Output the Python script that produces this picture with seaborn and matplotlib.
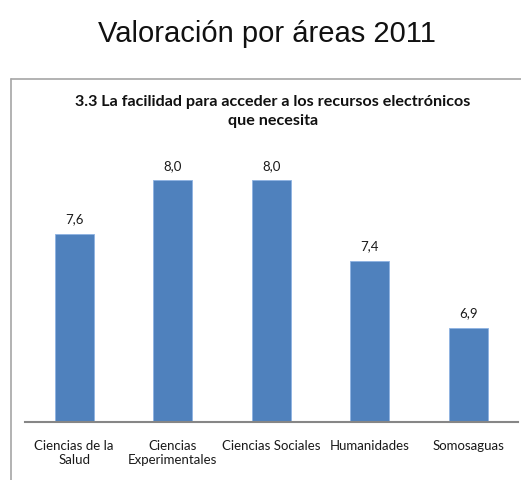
import numpy as np
import pandas as pd
import seaborn as sns
import matplotlib.pyplot as plt
from matplotlib.lines import Line2D

areas = ["Ciencias de la\nSalud", "Ciencias\nExperimentales", "Ciencias Sociales",
         "Humanidades", "Somosaguas"]
valoracion = [7.6, 8.0, 8.0, 7.4, 6.9]

main_title = "Valoración por áreas 2011"
chart_title = "3.3 La facilidad para acceder a los recursos electrónicos\nque necesita"

bar_color = "#4F81BD"

sns.set_style("white")
plt.rcParams["font.family"] = ["Lato", "DejaVu Sans"]

data = pd.DataFrame({"Area": areas, "Valoracion": valoracion})

W, H = 521, 480
fig = plt.figure(figsize=(W / 100, H / 100), dpi=100)

# axes placed in pixel terms so the bars line up with the reference
left, right, top, base = 25, 517.5, 150, 421.7
ax = fig.add_axes([left / W, (H - base) / H, (right - left) / W, (base - top) / H])

sns.barplot(data=data, x="Area", y="Valoracion", color=bar_color,
            width=0.4, saturation=1, ax=ax, edgecolor="#8DB3E2", linewidth=0.6)

ax.set_xlim(-0.5, 4.5)
ax.set_ylim(6.2, 8.226)
ax.set_xlabel("")
ax.set_ylabel("")
ax.set_yticks([])

for side in ["top", "right", "left"]:
    ax.spines[side].set_visible(False)
ax.spines["bottom"].set_color("#868686")
ax.spines["bottom"].set_linewidth(1.5)

ax.tick_params(axis="x", length=0, pad=13, labelsize=9.5, colors="#1a1a1a")

labels = [f"{v:.1f}".replace(".", ",") for v in valoracion]
ax.bar_label(ax.containers[0], labels=labels, padding=6, fontsize=9.5,
             color="#1a1a1a", clip_on=False)

# chart frame (left and top border only are visible in the crop)
fig.add_artist(Line2D([11 / W, 1.0], [1 - 79 / H, 1 - 79 / H],
                      color="#A6A6A6", linewidth=1.2))
fig.add_artist(Line2D([11 / W, 11 / W], [0.0, 1 - 79 / H],
                      color="#A6A6A6", linewidth=1.2))

fig.text(267 / W, 1 - 34 / H, main_title, ha="center", va="center",
         fontsize=21, family=["Liberation Sans", "DejaVu Sans"], color="#111111")
fig.text(273 / W, 1 - 111.5 / H, chart_title, ha="center", va="center",
         fontsize=11.6, fontweight="bold", color="#111111", linespacing=1.45)

fig.savefig("out.png", dpi=100)
